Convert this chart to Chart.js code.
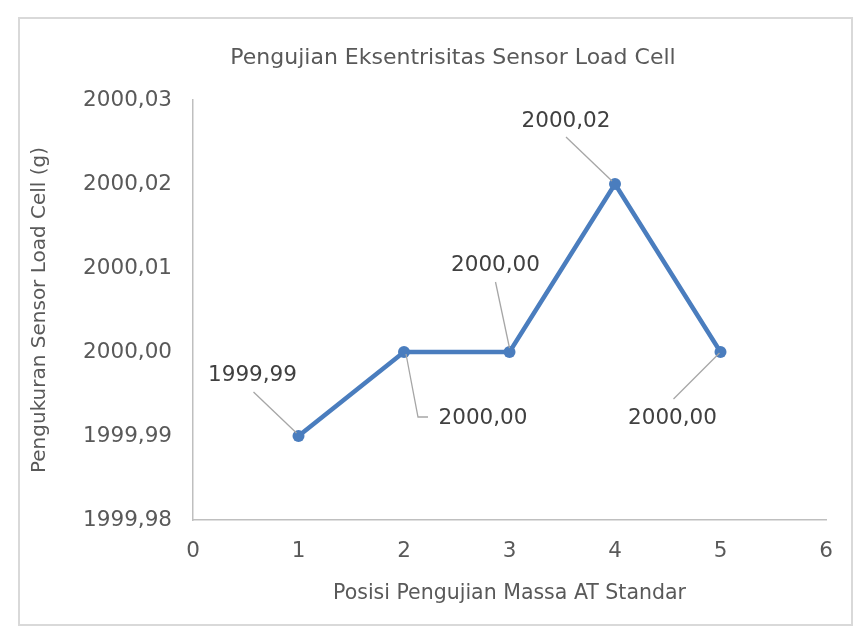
<!DOCTYPE html>
<html>
<head>
<meta charset="utf-8">
<script src="https://cdn.jsdelivr.net/npm/chart.js@4.4.1/dist/chart.umd.min.js"></script>
<style>
  html, body { margin: 0; padding: 0; background: #ffffff; }
  #wrap { width: 868px; height: 643px; position: relative; }
</style>
</head>
<body>
<div id="wrap"><canvas id="c" width="868" height="643"></canvas></div>
<script>
// ---- data ----
const chartTitle = 'Pengujian Eksentrisitas Sensor Load Cell';
const xAxisTitle = 'Posisi Pengujian Massa AT Standar';
const yAxisTitle = 'Pengukuran Sensor Load Cell (g)';
const positions = [1, 2, 3, 4, 5];
const measurements = [1999.99, 2000.00, 2000.00, 2000.02, 2000.00];
const xTicks = [0, 1, 2, 3, 4, 5, 6];
const yTicks = [1999.98, 1999.99, 2000.00, 2000.01, 2000.02, 2000.03];

// ---- label placement (pixel offsets relative to each point) ----
const labelLayout = [
  { dx: -46, dy: -61, leader: [[-45, -44], [-2, -3]] },
  { dx: 79, dy: 66, leader: [[24, 65], [14, 65], [2, 2]] },
  { dx: -14, dy: -87, leader: [[-14, -70], [0, -4]] },
  { dx: -49, dy: -63, leader: [[-49, -47], [-3, -3]] },
  { dx: -48, dy: 66, leader: [[-47, 47], [-1, 1]] }
];

const FONT = "'DejaVu Sans', sans-serif";
const TXT = '#595959';
const fmt = v => Number(v).toFixed(2).replace('.', ',');

const frame = {
  id: 'frame',
  beforeDraw(chart) {
    const ctx = chart.ctx;
    ctx.save();
    ctx.fillStyle = '#ffffff';
    ctx.fillRect(0, 0, chart.width, chart.height);
    ctx.strokeStyle = '#d9d9d9';
    ctx.lineWidth = 2;
    ctx.strokeRect(19, 18, 833, 607);
    ctx.fillStyle = TXT;
    ctx.font = '22px ' + FONT;
    ctx.textAlign = 'center';
    ctx.textBaseline = 'middle';
    ctx.fillText(chartTitle, 453, 58);
    ctx.restore();
  }
};

const dataLabels = {
  id: 'dataLabels',
  afterDatasetsDraw(chart) {
    const ctx = chart.ctx;
    const meta = chart.getDatasetMeta(0);
    ctx.save();
    meta.data.forEach((pt, i) => {
      const L = labelLayout[i];
      ctx.strokeStyle = '#a6a6a6';
      ctx.lineWidth = 1.3;
      ctx.beginPath();
      L.leader.forEach((p, k) => {
        const X = pt.x + p[0], Y = pt.y + p[1];
        if (k === 0) ctx.moveTo(X, Y); else ctx.lineTo(X, Y);
      });
      ctx.stroke();
      ctx.fillStyle = '#404040';
      ctx.font = '21.5px ' + FONT;
      ctx.textAlign = 'center';
      ctx.textBaseline = 'middle';
      ctx.fillText(fmt(chart.data.datasets[0].data[i].y), pt.x + L.dx, pt.y + L.dy);
    });
    ctx.restore();
  }
};

new Chart(document.getElementById('c'), {
  type: 'line',
  data: {
    datasets: [{
      data: positions.map((x, i) => ({ x: x, y: measurements[i] })),
      borderColor: '#4a7dbe',
      backgroundColor: '#4a7dbe',
      borderWidth: 4.5,
      pointRadius: 6,
      pointBorderWidth: 0,
      pointBackgroundColor: '#4a7dbe',
      tension: 0,
      fill: false
    }]
  },
  options: {
    responsive: false,
    animation: false,
    devicePixelRatio: 1,
    layout: { padding: { top: 100, right: 42, left: 0, bottom: 0 } },
    plugins: {
      legend: { display: false },
      title: { display: false },
      tooltip: { enabled: false }
    },
    scales: {
      x: {
        type: 'linear',
        min: 0, max: 6,
        afterBuildTicks: s => { s.ticks = xTicks.map(v => ({ value: v })); },
        afterFit: s => { s.height = 123; },
        grid: { display: false },
        border: { display: true, color: '#bfbfbf', width: 1.5 },
        ticks: { color: TXT, font: { family: FONT, size: 21.5 }, padding: 11, callback: v => String(v) },
        title: { display: true, text: xAxisTitle, color: TXT, font: { family: FONT, size: 20.5 }, padding: { top: 0, bottom: 37 } }
      },
      y: {
        type: 'linear',
        min: 1999.98, max: 2000.03,
        afterBuildTicks: s => { s.ticks = yTicks.map(v => ({ value: v })); },
        afterFit: s => { s.width = 193; },
        grid: { display: false },
        border: { display: true, color: '#bfbfbf', width: 1.5 },
        ticks: { color: TXT, font: { family: FONT, size: 21.5 }, padding: 13, callback: v => fmt(v) },
        title: { display: true, text: yAxisTitle, color: TXT, font: { family: FONT, size: 20 }, padding: { top: 28, bottom: 0 } }
      }
    }
  },
  plugins: [frame, dataLabels]
});
</script>
</body>
</html>
